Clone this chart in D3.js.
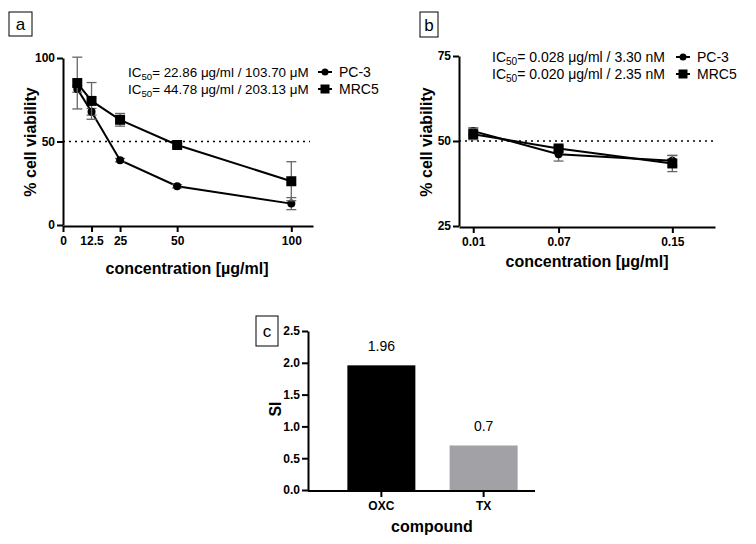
<!DOCTYPE html>
<html><head><meta charset="utf-8">
<script src="https://cdn.jsdelivr.net/npm/d3@7"></script>
<style>
body{margin:0;background:#fff;}
svg{display:block;font-family:"Liberation Sans",Arial,sans-serif;}
.tick text{font-weight:bold;font-size:12px;fill:#000;}
</style></head>
<body><svg id="c" width="756" height="544"></svg>
<script>
// Panel a data
const concA = [6.25, 12.5, 25, 50, 100];
const pc3A = [81.5, 67.8, 38.8, 23.2, 12.8];
const pc3AErr = [2, 2, 1, 1, 3.6];
const mrc5A = [85, 74.3, 63, 47.9, 26.2];
const mrc5AErr = [15.5, 11, 3.8, 1, 11.7];
const ticksAx = [0, 12.5, 25, 50, 100];
const ticksAy = [0, 50, 100];
// Panel b data
const concB = [0.01, 0.07, 0.15];
const pc3B = [52.9, 46.1, 44.2];
const pc3BErr = [1.0, 2.0, 1.5];
const mrc5B = [52.0, 47.8, 43.4];
const mrc5BErr = [1.6, 0.8, 2.4];
const ticksBx = [0.01, 0.07, 0.15];
const ticksBy = [25, 50, 75];
// Panel c data
const compounds = ["OXC", "TX"];
const siValues = [1.96, 0.7];
const siLabels = ["1.96", "0.7"];
const ticksCy = [0, 0.5, 1.0, 1.5, 2.0, 2.5];
const icA = ["22.86 μg/ml / 103.70 μM", "44.78 μg/ml / 203.13 μM"];
const icB = ["0.028 μg/ml / 3.30 nM", "0.020 μg/ml / 2.35 nM"];
const seriesNames = ["PC-3", "MRC5"];

const svg = d3.select("#c");

function styleAxis(g){
  g.selectAll(".domain").attr("stroke","#000").attr("stroke-width",2);
  g.selectAll(".tick line").attr("stroke","#000").attr("stroke-width",2);
}
function panelLabel(x,y,w,h,t){
  svg.append("rect").attr("x",x).attr("y",y).attr("width",w).attr("height",h)
    .attr("fill","none").attr("stroke","#000").attr("stroke-width",1);
  svg.append("text").attr("x",x+w/2).attr("y",y+h/2+6).attr("text-anchor","middle")
    .attr("font-size",17).text(t);
}
function icText(x,y,val,fs){
  const t = svg.append("text").attr("x",x).attr("y",y).attr("font-size",fs);
  t.append("tspan").text("IC");
  t.append("tspan").attr("font-size",fs*0.72).attr("dy",3).text("50");
  t.append("tspan").attr("dy",-3).text("= "+val);
}
function marker(g,type,x,y,size){
  if(type==="circle") g.append("circle").attr("cx",x).attr("cy",y).attr("r",size).attr("fill","#000");
  else g.append("rect").attr("x",x-size-0.5).attr("y",y-size-0.5).attr("width",2*size+1).attr("height",2*size+1).attr("fill","#000");
}
function series(g,x,y,xs,ys,errs,type){
  const line = d3.line().x((d,i)=>x(xs[i])).y(d=>y(d));
  g.append("path").datum(ys).attr("d",line).attr("fill","none").attr("stroke","#000").attr("stroke-width",2);
  ys.forEach((v,i)=>{
    const cx = x(xs[i]), y1 = y(v+errs[i]), y2 = y(v-errs[i]);
    g.append("line").attr("x1",cx).attr("x2",cx).attr("y1",y1).attr("y2",y2).attr("stroke","#666").attr("stroke-width",1.3);
    [y1,y2].forEach(yy=>g.append("line").attr("x1",cx-5).attr("x2",cx+5).attr("y1",yy).attr("y2",yy).attr("stroke","#666").attr("stroke-width",1.3));
  });
  ys.forEach((v,i)=>marker(g,type,x(xs[i]),y(v),type==="circle"?4:4.5));
}
function legendItem(x,y,type,name){
  svg.append("line").attr("x1",x).attr("x2",x+14).attr("y1",y).attr("y2",y).attr("stroke","#000").attr("stroke-width",2);
  marker(svg,type,x+7,y,type==="circle"?3.5:4);
  svg.append("text").attr("x",x+21).attr("y",y+5).attr("font-size",14).text(name);
}

// ---------- Panel a ----------
{
  const x = d3.scaleLinear().domain([0,109.5]).range([63,313]);
  const y = d3.scaleLinear().domain([0,100]).range([225,58]);
  const g = svg.append("g");
  g.append("line").attr("x1",x(0)).attr("x2",310).attr("y1",y(50)).attr("y2",y(50))
    .attr("stroke","#000").attr("stroke-width",1.5).attr("stroke-dasharray","2,4");
  const gx = g.append("g").attr("transform","translate(0,226)")
    .call(d3.axisBottom(x).tickValues(ticksAx).tickFormat(d3.format("")).tickSize(6).tickSizeOuter(0).tickPadding(4));
  styleAxis(gx);
  const gy = g.append("g").attr("transform","translate(63,0)")
    .call(d3.axisLeft(y).tickValues(ticksAy).tickSize(6).tickSizeOuter(0).tickPadding(2));
  styleAxis(gy);
  series(g,x,y,concA,pc3A,pc3AErr,"circle");
  series(g,x,y,concA,mrc5A,mrc5AErr,"square");
  g.append("text").attr("x",187).attr("y",274).attr("text-anchor","middle").attr("font-size",16).attr("font-weight","bold").text("concentration [µg/ml]");
  g.append("text").attr("transform","translate(36,142) rotate(-90)").attr("text-anchor","middle").attr("font-size",16).attr("font-weight","bold").text("% cell viability");
  icText(128,77,icA[0],13.4); icText(128,94,icA[1],13.4);
  legendItem(318,72,"circle",seriesNames[0]);
  legendItem(318,89,"square",seriesNames[1]);
  panelLabel(9,12,23,24,"a");
}

// ---------- Panel b ----------
{
  const x = d3.scaleLinear().domain([0,0.18]).range([459,715]);
  const y = d3.scaleLinear().domain([25,75]).range([226,56]);
  const g = svg.append("g");
  g.append("line").attr("x1",459).attr("x2",715).attr("y1",y(50)).attr("y2",y(50))
    .attr("stroke","#000").attr("stroke-width",1.5).attr("stroke-dasharray","2,4");
  const gx = g.append("g").attr("transform","translate(0,227)")
    .call(d3.axisBottom(x).tickValues(ticksBx).tickFormat(d3.format(".2f")).tickSize(6).tickSizeOuter(0).tickPadding(4));
  styleAxis(gx);
  const gy = g.append("g").attr("transform","translate(459,0)")
    .call(d3.axisLeft(y).tickValues(ticksBy).tickSize(6).tickSizeOuter(0).tickPadding(2));
  styleAxis(gy);
  series(g,x,y,concB,pc3B,pc3BErr,"circle");
  series(g,x,y,concB,mrc5B,mrc5BErr,"square");
  g.append("text").attr("x",587).attr("y",267).attr("text-anchor","middle").attr("font-size",16).attr("font-weight","bold").text("concentration [µg/ml]");
  g.append("text").attr("transform","translate(432,142) rotate(-90)").attr("text-anchor","middle").attr("font-size",16).attr("font-weight","bold").text("% cell viability");
  icText(492,62,icB[0],14); icText(492,79,icB[1],14);
  legendItem(676,57,"circle",seriesNames[0]);
  legendItem(676,74,"square",seriesNames[1]);
  panelLabel(420,12,18,25,"b");
}

// ---------- Panel c ----------
{
  const x = d3.scaleBand().domain(compounds).range([308,557]).paddingInner(0.335).paddingOuter(0.385);
  const y = d3.scaleLinear().domain([0,2.5]).range([490,331]);
  const colors = ["#000000","#a2a2a6"];
  const g = svg.append("g");
  g.selectAll("rect.bar").data(siValues).enter().append("rect").attr("class","bar")
    .attr("x",(d,i)=>x(compounds[i])).attr("width",x.bandwidth())
    .attr("y",d=>y(d)).attr("height",d=>y(0)-y(d)).attr("fill",(d,i)=>colors[i]);
  g.selectAll("text.val").data(siValues).enter().append("text").attr("class","val")
    .attr("x",(d,i)=>x(compounds[i])+x.bandwidth()/2).attr("y",d=>y(d)-14)
    .attr("text-anchor","middle").attr("font-size",14).text((d,i)=>siLabels[i]);
  const gx = g.append("g").attr("transform","translate(0,491)")
    .call(d3.axisBottom(x).tickSize(6).tickSizeOuter(0).tickPadding(4));
  gx.select(".domain").remove();
  gx.append("line").attr("x1",308).attr("x2",535).attr("y1",0).attr("y2",0);
  gx.selectAll("line").attr("stroke","#000").attr("stroke-width",2);
  const gy = g.append("g").attr("transform","translate(308,0)")
    .call(d3.axisLeft(y).tickValues(ticksCy).tickFormat(d3.format(".1f")).tickSize(6).tickSizeOuter(0).tickPadding(2));
  styleAxis(gy);
  g.append("text").attr("x",432).attr("y",532).attr("text-anchor","middle").attr("font-size",16).attr("font-weight","bold").text("compound");
  g.append("text").attr("transform","translate(281,409) rotate(-90)").attr("text-anchor","middle").attr("font-size",16).attr("font-weight","bold").text("SI");
  panelLabel(256,316,22,30,"c");
}
</script></body></html>
